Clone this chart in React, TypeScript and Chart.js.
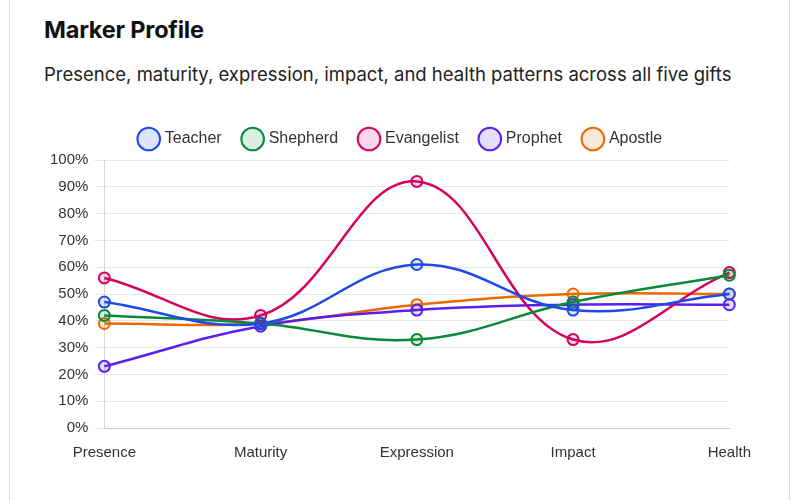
import React, { useEffect, useRef } from "react";
import { Chart, registerables } from "chart.js";

Chart.register(...registerables);

const categories = ["Presence", "Maturity", "Expression", "Impact", "Health"];
const teacher = [47, 39, 61, 44, 50];
const shepherd = [42, 39, 33, 47, 57];
const evangelist = [56, 42, 92, 33, 58];
const prophet = [23, 38, 44, 46, 46];
const apostle = [39, 39, 46, 50, 50];

const seriesNames = ["Teacher", "Shepherd", "Evangelist", "Prophet", "Apostle"];
const seriesColors = ["#1d4ae8", "#078a3c", "#d4035c", "#5a1ff0", "#eb6a00"];
const seriesFills = [
  "rgba(29,74,232,0.15)",
  "rgba(7,138,60,0.15)",
  "rgba(212,3,92,0.15)",
  "rgba(90,31,240,0.15)",
  "rgba(235,106,0,0.15)",
];
const seriesValues = [teacher, shepherd, evangelist, prophet, apostle];
const yTicks = [0, 10, 20, 30, 40, 50, 60, 70, 80, 90, 100];

const FONT = "'Liberation Sans', Arial, sans-serif";

const legendMargin = {
  id: "legendMargin",
  beforeInit(chart: any) {
    const legend = chart.legend;
    if (!legend) return;
    const orig = legend.fit;
    legend.fit = function () {
      orig.call(this);
      this.height += 3;
    };
  },
};

export default function App() {
  const ref = useRef<HTMLCanvasElement | null>(null);

  useEffect(() => {
    if (!ref.current) return;
    const chart = new Chart(ref.current, {
      type: "line",
      data: {
        labels: categories,
        datasets: seriesNames.map((name, i) => ({
          label: name,
          data: seriesValues[i],
          borderColor: seriesColors[i],
          backgroundColor: seriesFills[i],
          pointBackgroundColor: seriesFills[i],
          pointBorderColor: seriesColors[i],
          pointRadius: 5.5,
          pointBorderWidth: 2,
          borderWidth: 2.5,
          tension: 0.4,
          fill: false,
        })),
      },
      options: {
        animation: false,
        responsive: false,
        maintainAspectRatio: false,
        plugins: {
          legend: {
            position: "top",
            labels: {
              usePointStyle: true,
              pointStyle: "circle",
              color: "#333",
              font: { family: FONT, size: 16 },
              padding: 23,
            },
          },
          tooltip: { enabled: false },
        },
        scales: {
          x: {
            grid: { display: false },
            border: { display: true, color: "#c8c8c8" },
            ticks: { color: "#333", font: { family: FONT, size: 15 }, padding: 8 },
          },
          y: {
            min: 0,
            max: 100,
            afterBuildTicks: (axis: any) => {
              axis.ticks = yTicks.map((v) => ({ value: v }));
            },
            grid: { color: "#e6e6e6", tickLength: 10 },
            border: { display: true, color: "#d6d6d6" },
            ticks: {
              color: "#333",
              font: { family: FONT, size: 15 },
              padding: 6,
              callback: (v: any) => v + "%",
            },
          },
        },
      },
      plugins: [legendMargin],
    });
    return () => chart.destroy();
  }, []);

  return (
    <div style={{ position: "absolute", left: 0, top: 0, width: 800, height: 500, overflow: "hidden", background: "#fff" }}>
      <div
        style={{
          position: "absolute",
          left: 9,
          top: -10,
          width: 779,
          height: 520,
          borderLeft: "1.5px solid #dcdde6",
          borderRight: "1.5px solid #dcdde6",
        }}
      />
      <div
        style={{
          position: "absolute",
          left: 44,
          top: 15,
          fontFamily: "Inter, 'Noto Sans', sans-serif",
          fontWeight: 700,
          fontSize: 23.5,
          color: "#111",
          letterSpacing: -0.2,
        }}
      >
        Marker Profile
      </div>
      <div
        style={{
          position: "absolute",
          left: 44,
          top: 63,
          fontFamily: "Inter, 'Noto Sans', sans-serif",
          fontSize: 18.5,
          color: "#222",
        }}
      >
        Presence, maturity, expression, impact, and health patterns across all five gifts
      </div>
      <canvas ref={ref} width={715} height={362} style={{ position: "absolute", left: 44, top: 108, width: 715, height: 362 }} />
    </div>
  );
}
